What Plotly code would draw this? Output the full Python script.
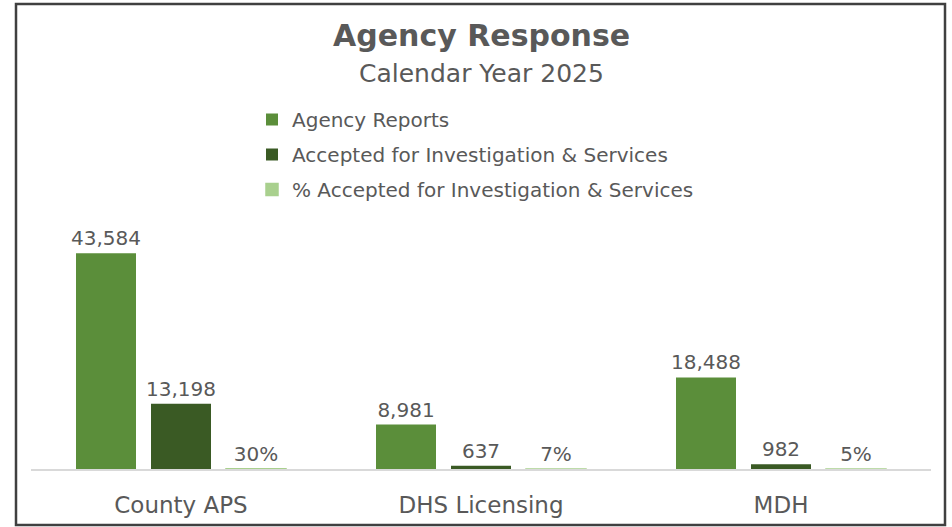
import plotly.graph_objects as go

categories = ["County APS", "DHS Licensing", "MDH"]
agency_reports = [43584, 8981, 18488]
accepted = [13198, 637, 982]
pct_accepted = [30, 7, 5]

FONT = "DejaVu Sans"
TXT = "#595959"

W, H = 952, 527
L, R, T, B = 31, 21, 222, 58
plot_h = H - T - B

def px_to_paper_y(py):
    return (H - B - py) / plot_h

def px_to_paper_x(px):
    return (px - L) / (W - L - R)

fig = go.Figure()
fig.add_bar(
    x=categories, y=agency_reports, name="Agency Reports",
    marker=dict(color="#5B8E3A", line=dict(width=0)),
    text=[f"{v:,}" for v in agency_reports], textposition="outside",
    legendgroup="a",
)
fig.add_bar(
    x=categories, y=accepted, name="Accepted for Investigation & Services",
    marker=dict(color="#3A5A24", line=dict(width=0)),
    text=[f"{v:,}" for v in accepted], textposition="outside",
    legendgroup="b",
)
fig.add_bar(
    x=categories, y=pct_accepted, name="% Accepted for Investigation & Services",
    marker=dict(color="#A9D08E", line=dict(color="#A9D08E", width=1.5)),
    text=[f"{v}%" for v in pct_accepted], textposition="outside",
    legendgroup="c",
)
fig.update_traces(
    textfont=dict(family=FONT, size=20, color=TXT),
    cliponaxis=False, constraintext="none", textangle=0,
)

fig.update_layout(
    width=W, height=H,
    margin=dict(l=L, r=R, t=T, b=B, pad=0, autoexpand=False),
    paper_bgcolor="white", plot_bgcolor="white",
    barmode="group", bargap=0.25, bargroupgap=0.2,
    font=dict(family=FONT, color=TXT),
    showlegend=True,
    legend=dict(
        x=px_to_paper_x(252), xanchor="left",
        y=px_to_paper_y(100), yanchor="top",
        orientation="v", traceorder="grouped", tracegroupgap=6,
        font=dict(family=FONT, size=20, color=TXT),
        bgcolor="rgba(0,0,0,0)",
    ),
    xaxis=dict(
        showline=True, linecolor="#D9D9D9", linewidth=1.5,
        showgrid=False, ticks="", ticklabelstandoff=15,
        tickfont=dict(family=FONT, size=23, color=TXT),
    ),
    yaxis=dict(range=[0, 49900], visible=False, showgrid=False),
    annotations=[
        dict(text="<b>Agency Response</b>", xref="paper", yref="paper",
             x=px_to_paper_x(481), y=px_to_paper_y(35), xanchor="center", yanchor="middle",
             showarrow=False, font=dict(family=FONT, size=30, color=TXT)),
        dict(text="Calendar Year 2025", xref="paper", yref="paper",
             x=px_to_paper_x(481), y=px_to_paper_y(73), xanchor="center", yanchor="middle",
             showarrow=False, font=dict(family=FONT, size=25, color=TXT)),
    ],
    shapes=[
        dict(type="rect", xref="paper", yref="paper",
             x0=px_to_paper_x(16), x1=px_to_paper_x(945),
             y0=px_to_paper_y(525), y1=px_to_paper_y(4),
             line=dict(color="#404040", width=2.5), fillcolor="rgba(0,0,0,0)", layer="above"),
    ],
)

fig.write_html("out.html", config={"displayModeBar": False},
               post_script="document.body.style.margin='0';document.body.style.overflow='hidden';")
